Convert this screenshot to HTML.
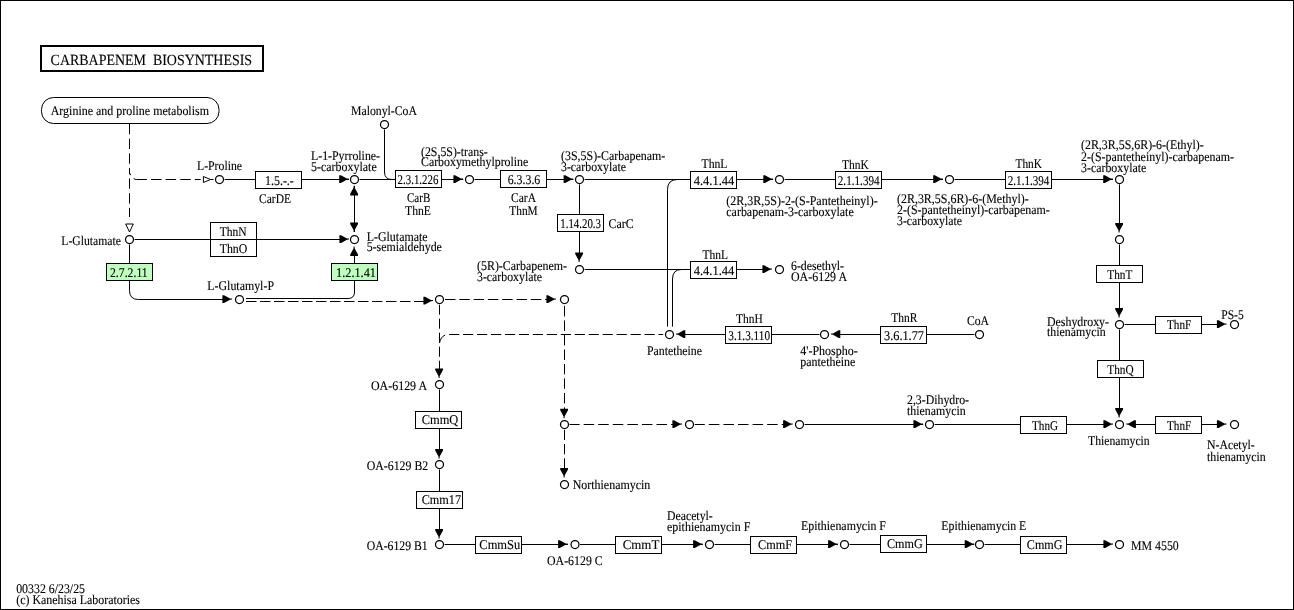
<!DOCTYPE html>
<html lang="en"><head><meta charset="utf-8"><title>Carbapenem biosynthesis</title>
<style>
html,body{margin:0;padding:0;background:#fff;}
body{width:1294px;height:610px;overflow:hidden;}
svg{display:block;will-change:transform;text-rendering:geometricPrecision;}
text{font-family:"Liberation Serif","Times New Roman",Times,serif;fill:#000;stroke:#000;stroke-width:0.12px;}
</style></head><body>
<svg width="1294" height="610" viewBox="0 0 1294 610">
<rect x="0" y="0" width="1294" height="610" fill="#fff"/>
<rect x="0.5" y="0.5" width="1293" height="609" fill="none" stroke="#000" stroke-width="1"/>
<path d="M129.5,124 V174.3" fill="none" stroke="#000" stroke-width="1" stroke-dasharray="10.3 4.4"/>
<path d="M129.5,178.4 V217" fill="none" stroke="#000" stroke-width="1" stroke-dasharray="10.4 4.35"/>
<path d="M136.5,179.5 H200.7" fill="none" stroke="#000" stroke-width="1" stroke-dasharray="10.4 4.2"/>
<path d="M130.2,173.6 L130.6,175.2 M133.6,178.6 Q135,179.5 136.5,179.5" fill="none" stroke="#000" stroke-width="1"/>
<path d="M223.5,179.5 H1119.5" fill="none" stroke="#000" stroke-width="1"/>
<path d="M384.5,128.5 V172 Q384.5,179.5 392,179.5" fill="none" stroke="#000" stroke-width="1"/>
<path d="M354.5,186 V232" fill="none" stroke="#000" stroke-width="1"/>
<path d="M133.5,239.5 H345" fill="none" stroke="#000" stroke-width="1"/>
<path d="M129.5,243.5 V290.5 Q129.5,299.5 138.5,299.5 H228" fill="none" stroke="#000" stroke-width="1"/>
<path d="M246,298.5 H348 Q354.5,298.5 354.5,292 V250" fill="none" stroke="#000" stroke-width="1"/>
<path d="M246,301.5 H424" fill="none" stroke="#000" stroke-width="1" stroke-dasharray="10.5 3.5"/>
<path d="M445,299.5 H547" fill="none" stroke="#000" stroke-width="1" stroke-dasharray="10.5 3.8"/>
<path d="M439.5,304.7 V369" fill="none" stroke="#000" stroke-width="1" stroke-dasharray="10 4"/>
<path d="M439.5,343 Q441,335 448,334.5 H663.2" fill="none" stroke="#000" stroke-width="1" stroke-dasharray="10.2 3.76"/>
<path d="M564.5,305.9 V410" fill="none" stroke="#000" stroke-width="1" stroke-dasharray="10.5 4"/>
<path d="M564.5,429.7 V469" fill="none" stroke="#000" stroke-width="1" stroke-dasharray="10.3 4"/>
<path d="M569.1,424.5 H673" fill="none" stroke="#000" stroke-width="1" stroke-dasharray="10.5 4.07"/>
<path d="M694.3,424.5 H784" fill="none" stroke="#000" stroke-width="1" stroke-dasharray="10.5 4.07"/>
<path d="M803.5,424.5 H1110" fill="none" stroke="#000" stroke-width="1"/>
<path d="M1130,424.5 H1223" fill="none" stroke="#000" stroke-width="1"/>
<path d="M579.5,183.5 V258" fill="none" stroke="#000" stroke-width="1"/>
<path d="M583.5,269.5 H770" fill="none" stroke="#000" stroke-width="1"/>
<path d="M677.5,179.5 Q667.5,179.5 667.5,189.5 V326.6" fill="none" stroke="#000" stroke-width="1"/>
<path d="M681.5,269.5 Q672.5,269.5 672.5,279 V326.6" fill="none" stroke="#000" stroke-width="1"/>
<path d="M680,334.5 H820.5" fill="none" stroke="#000" stroke-width="1"/>
<path d="M835,334.5 H975.5" fill="none" stroke="#000" stroke-width="1"/>
<path d="M1119.5,183.5 V228" fill="none" stroke="#000" stroke-width="1"/>
<path d="M1119.5,243.5 V313" fill="none" stroke="#000" stroke-width="1"/>
<path d="M1119.5,328.5 V413" fill="none" stroke="#000" stroke-width="1"/>
<path d="M1123.5,324.5 H1223" fill="none" stroke="#000" stroke-width="1"/>
<path d="M439.5,388.5 V455" fill="none" stroke="#000" stroke-width="1"/>
<path d="M439.5,468.5 V535" fill="none" stroke="#000" stroke-width="1"/>
<path d="M443.5,544.5 H1110" fill="none" stroke="#000" stroke-width="1"/>
<path d="M210.79999999999998,179.5 L217.1,179.5" stroke="#fff" stroke-width="3" fill="none"/>
<polygon points="210.6,179.5 203.4,182.5 203.4,176.5" fill="#fff" stroke="#000" stroke-width="1"/>
<path d="M211,179.5 H213.5" fill="none" stroke="#000" stroke-width="1"/>
<path d="M129.5,232.2 L129.5,238.5" stroke="#fff" stroke-width="3" fill="none"/>
<polygon points="129.5,232 133.3,224.0 125.7,224.0" fill="#fff" stroke="#000" stroke-width="1"/>
<path d="M349.0,179.5 L355.3,179.5" stroke="#fff" stroke-width="3" fill="none"/>
<polygon points="339.2,175.2 339.2,183.0 340.8,183.0 346.8,179.7 348.8,179.6 348.8,178.6 346.8,178.5 340.8,175.2" fill="#000"/>
<path d="M463.2,179.5 L469.5,179.5" stroke="#fff" stroke-width="3" fill="none"/>
<polygon points="453.4,175.2 453.4,183.0 455.0,183.0 461.0,179.7 463,179.6 463,178.6 461.0,178.5 455.0,175.2" fill="#000"/>
<path d="M573.4000000000001,179.5 L579.7,179.5" stroke="#fff" stroke-width="3" fill="none"/>
<polygon points="563.6,175.2 563.6,183.0 565.2,183.0 571.2,179.7 573.2,179.6 573.2,178.6 571.2,178.5 565.2,175.2" fill="#000"/>
<path d="M773.1,179.5 L779.4,179.5" stroke="#fff" stroke-width="3" fill="none"/>
<polygon points="763.3,175.2 763.3,183.0 764.9,183.0 770.9,179.7 772.9,179.6 772.9,178.6 770.9,178.5 764.9,175.2" fill="#000"/>
<path d="M943.0,179.5 L949.3,179.5" stroke="#fff" stroke-width="3" fill="none"/>
<polygon points="933.2,175.2 933.2,183.0 934.8,183.0 940.8,179.7 942.8,179.6 942.8,178.6 940.8,178.5 934.8,175.2" fill="#000"/>
<path d="M1113.0,179.5 L1119.3,179.5" stroke="#fff" stroke-width="3" fill="none"/>
<polygon points="1103.2,175.2 1103.2,183.0 1104.8,183.0 1110.8,179.7 1112.8,179.6 1112.8,178.6 1110.8,178.5 1104.8,175.2" fill="#000"/>
<path d="M354.5,185.60000000000002 L354.5,179.3" stroke="#fff" stroke-width="3" fill="none"/>
<polygon points="350.2,195.4 358.0,195.4 358.0,193.8 354.7,187.8 354.6,185.8 353.6,185.8 353.5,187.8 350.2,193.8" fill="#000"/>
<path d="M354.5,232.2 L354.5,238.5" stroke="#fff" stroke-width="3" fill="none"/>
<polygon points="350.2,222.4 358.0,222.4 358.0,224.0 354.7,230.0 354.6,232 353.6,232 353.5,230.0 350.2,224.0" fill="#000"/>
<path d="M349.2,239.5 L355.5,239.5" stroke="#fff" stroke-width="3" fill="none"/>
<polygon points="339.4,235.2 339.4,243.0 341.0,243.0 347.0,239.7 349,239.6 349,238.6 347.0,238.5 341.0,235.2" fill="#000"/>
<path d="M354.5,246.3 L354.5,240.0" stroke="#fff" stroke-width="3" fill="none"/>
<polygon points="350.2,256.1 358.0,256.1 358.0,254.5 354.7,248.5 354.6,246.5 353.6,246.5 353.5,248.5 350.2,254.5" fill="#000"/>
<path d="M232.2,299.5 L238.5,299.5" stroke="#fff" stroke-width="3" fill="none"/>
<polygon points="222.4,295.2 222.4,303.0 224.0,303.0 230.0,299.7 232,299.6 232,298.6 230.0,298.5 224.0,295.2" fill="#000"/>
<path d="M433.2,301.0 L439.5,301.0" stroke="#fff" stroke-width="3" fill="none"/>
<polygon points="423.4,296.7 423.4,304.5 425.0,304.5 431.0,301.2 433,301.1 433,300.1 431.0,300.0 425.0,296.7" fill="#000"/>
<path d="M556.2,299.5 L562.5,299.5" stroke="#fff" stroke-width="3" fill="none"/>
<polygon points="546.4,295.2 546.4,303.0 548.0,303.0 554.0,299.7 556,299.6 556,298.6 554.0,298.5 548.0,295.2" fill="#000"/>
<path d="M439.5,378.2 L439.5,384.5" stroke="#fff" stroke-width="3" fill="none"/>
<polygon points="435.2,368.4 443.0,368.4 443.0,370.0 439.7,376.0 439.6,378 438.6,378 438.5,376.0 435.2,370.0" fill="#000"/>
<path d="M564.5,418.5 L564.5,424.8" stroke="#fff" stroke-width="3" fill="none"/>
<polygon points="560.2,408.7 568.0,408.7 568.0,410.3 564.7,416.3 564.6,418.3 563.6,418.3 563.5,416.3 560.2,410.3" fill="#000"/>
<path d="M564.5,477.7 L564.5,484.0" stroke="#fff" stroke-width="3" fill="none"/>
<polygon points="560.2,467.9 568.0,467.9 568.0,469.5 564.7,475.5 564.6,477.5 563.6,477.5 563.5,475.5 560.2,469.5" fill="#000"/>
<path d="M682.2,424.5 L688.5,424.5" stroke="#fff" stroke-width="3" fill="none"/>
<polygon points="672.4,420.2 672.4,428.0 674.0,428.0 680.0,424.7 682,424.6 682,423.6 680.0,423.5 674.0,420.2" fill="#000"/>
<path d="M792.9000000000001,424.5 L799.2,424.5" stroke="#fff" stroke-width="3" fill="none"/>
<polygon points="783.1,420.2 783.1,428.0 784.7,428.0 790.7,424.7 792.7,424.6 792.7,423.6 790.7,423.5 784.7,420.2" fill="#000"/>
<path d="M923.2,424.5 L929.5,424.5" stroke="#fff" stroke-width="3" fill="none"/>
<polygon points="913.4,420.2 913.4,428.0 915.0,428.0 921.0,424.7 923,424.6 923,423.6 921.0,423.5 915.0,420.2" fill="#000"/>
<path d="M1113.2,424.5 L1119.5,424.5" stroke="#fff" stroke-width="3" fill="none"/>
<polygon points="1103.4,420.2 1103.4,428.0 1105.0,428.0 1111.0,424.7 1113,424.6 1113,423.6 1111.0,423.5 1105.0,420.2" fill="#000"/>
<path d="M1126.1,424.5 L1119.8,424.5" stroke="#fff" stroke-width="3" fill="none"/>
<polygon points="1135.9,420.2 1135.9,428.0 1134.3,428.0 1128.3,424.7 1126.3,424.6 1126.3,423.6 1128.3,423.5 1134.3,420.2" fill="#000"/>
<path d="M1226.7,424.5 L1233.0,424.5" stroke="#fff" stroke-width="3" fill="none"/>
<polygon points="1216.9,420.2 1216.9,428.0 1218.5,428.0 1224.5,424.7 1226.5,424.6 1226.5,423.6 1224.5,423.5 1218.5,420.2" fill="#000"/>
<path d="M579.5,262.2 L579.5,268.5" stroke="#fff" stroke-width="3" fill="none"/>
<polygon points="575.2,252.4 583.0,252.4 583.0,254.0 579.7,260.0 579.6,262 578.6,262 578.5,260.0 575.2,254.0" fill="#000"/>
<path d="M772.2,269.5 L778.5,269.5" stroke="#fff" stroke-width="3" fill="none"/>
<polygon points="762.4,265.2 762.4,273.0 764.0,273.0 770.0,269.7 772,269.6 772,268.6 770.0,268.5 764.0,265.2" fill="#000"/>
<path d="M675.8,334.5 L669.5,334.5" stroke="#fff" stroke-width="3" fill="none"/>
<polygon points="685.3,330.2 685.3,338.0 683.7,338.0 678.0,334.7 676,334.6 676,333.6 678.0,333.5 683.7,330.2" fill="#000"/>
<path d="M830.8,334.5 L824.5,334.5" stroke="#fff" stroke-width="3" fill="none"/>
<polygon points="840.3,330.2 840.3,338.0 838.7,338.0 833.0,334.7 831,334.6 831,333.6 833.0,333.5 838.7,330.2" fill="#000"/>
<path d="M1119.5,232.7 L1119.5,239.0" stroke="#fff" stroke-width="3" fill="none"/>
<polygon points="1115.2,222.9 1123.0,222.9 1123.0,224.5 1119.7,230.5 1119.6,232.5 1118.6,232.5 1118.5,230.5 1115.2,224.5" fill="#000"/>
<path d="M1119.5,317.7 L1119.5,324.0" stroke="#fff" stroke-width="3" fill="none"/>
<polygon points="1115.2,307.9 1123.0,307.9 1123.0,309.5 1119.7,315.5 1119.6,317.5 1118.6,317.5 1118.5,315.5 1115.2,309.5" fill="#000"/>
<path d="M1119.5,417.7 L1119.5,424.0" stroke="#fff" stroke-width="3" fill="none"/>
<polygon points="1115.2,407.9 1123.0,407.9 1123.0,409.5 1119.7,415.5 1119.6,417.5 1118.6,417.5 1118.5,415.5 1115.2,409.5" fill="#000"/>
<path d="M1226.7,324.5 L1233.0,324.5" stroke="#fff" stroke-width="3" fill="none"/>
<polygon points="1216.9,320.2 1216.9,328.0 1218.5,328.0 1224.5,324.7 1226.5,324.6 1226.5,323.6 1224.5,323.5 1218.5,320.2" fill="#000"/>
<path d="M439.5,458.7 L439.5,465.0" stroke="#fff" stroke-width="3" fill="none"/>
<polygon points="435.2,448.9 443.0,448.9 443.0,450.5 439.7,456.5 439.6,458.5 438.6,458.5 438.5,456.5 435.2,450.5" fill="#000"/>
<path d="M439.5,538.7 L439.5,545.0" stroke="#fff" stroke-width="3" fill="none"/>
<polygon points="435.2,528.9 443.0,528.9 443.0,530.5 439.7,536.5 439.6,538.5 438.6,538.5 438.5,536.5 435.2,530.5" fill="#000"/>
<path d="M567.9000000000001,544.5 L574.2,544.5" stroke="#fff" stroke-width="3" fill="none"/>
<polygon points="558.1,540.2 558.1,548.0 559.7,548.0 565.7,544.7 567.7,544.6 567.7,543.6 565.7,543.5 559.7,540.2" fill="#000"/>
<path d="M702.9000000000001,544.5 L709.2,544.5" stroke="#fff" stroke-width="3" fill="none"/>
<polygon points="693.1,540.2 693.1,548.0 694.7,548.0 700.7,544.7 702.7,544.6 702.7,543.6 700.7,543.5 694.7,540.2" fill="#000"/>
<path d="M837.9000000000001,544.5 L844.2,544.5" stroke="#fff" stroke-width="3" fill="none"/>
<polygon points="828.1,540.2 828.1,548.0 829.7,548.0 835.7,544.7 837.7,544.6 837.7,543.6 835.7,543.5 829.7,540.2" fill="#000"/>
<path d="M974.5,544.5 L980.8,544.5" stroke="#fff" stroke-width="3" fill="none"/>
<polygon points="964.7,540.2 964.7,548.0 966.3,548.0 972.3,544.7 974.3,544.6 974.3,543.6 972.3,543.5 966.3,540.2" fill="#000"/>
<path d="M1113.2,544.5 L1119.5,544.5" stroke="#fff" stroke-width="3" fill="none"/>
<polygon points="1103.4,540.2 1103.4,548.0 1105.0,548.0 1111.0,544.7 1113,544.6 1113,543.6 1111.0,543.5 1105.0,540.2" fill="#000"/>
<circle cx="219.5" cy="179.5" r="5.1" fill="#fff"/>
<circle cx="219.5" cy="179.5" r="4" fill="#fff" stroke="#000" stroke-width="1.25"/>
<circle cx="354.5" cy="179.5" r="5.1" fill="#fff"/>
<circle cx="354.5" cy="179.5" r="4" fill="#fff" stroke="#000" stroke-width="1.25"/>
<circle cx="384.5" cy="124.5" r="5.1" fill="#fff"/>
<circle cx="384.5" cy="124.5" r="4" fill="#fff" stroke="#000" stroke-width="1.25"/>
<circle cx="469.5" cy="179.5" r="5.1" fill="#fff"/>
<circle cx="469.5" cy="179.5" r="4" fill="#fff" stroke="#000" stroke-width="1.25"/>
<circle cx="579.5" cy="179.5" r="5.1" fill="#fff"/>
<circle cx="579.5" cy="179.5" r="4" fill="#fff" stroke="#000" stroke-width="1.25"/>
<circle cx="779.5" cy="179.5" r="5.1" fill="#fff"/>
<circle cx="779.5" cy="179.5" r="4" fill="#fff" stroke="#000" stroke-width="1.25"/>
<circle cx="949.5" cy="179.5" r="5.1" fill="#fff"/>
<circle cx="949.5" cy="179.5" r="4" fill="#fff" stroke="#000" stroke-width="1.25"/>
<circle cx="1119.5" cy="179.5" r="5.1" fill="#fff"/>
<circle cx="1119.5" cy="179.5" r="4" fill="#fff" stroke="#000" stroke-width="1.25"/>
<circle cx="129.5" cy="239.5" r="5.1" fill="#fff"/>
<circle cx="129.5" cy="239.5" r="4" fill="#fff" stroke="#000" stroke-width="1.25"/>
<circle cx="354.5" cy="239.5" r="5.1" fill="#fff"/>
<circle cx="354.5" cy="239.5" r="4" fill="#fff" stroke="#000" stroke-width="1.25"/>
<circle cx="239.5" cy="299.5" r="5.1" fill="#fff"/>
<circle cx="239.5" cy="299.5" r="4" fill="#fff" stroke="#000" stroke-width="1.25"/>
<circle cx="439.5" cy="299.5" r="5.1" fill="#fff"/>
<circle cx="439.5" cy="299.5" r="4" fill="#fff" stroke="#000" stroke-width="1.25"/>
<circle cx="564.5" cy="299.5" r="5.1" fill="#fff"/>
<circle cx="564.5" cy="299.5" r="4" fill="#fff" stroke="#000" stroke-width="1.25"/>
<circle cx="579.5" cy="269.5" r="5.1" fill="#fff"/>
<circle cx="579.5" cy="269.5" r="4" fill="#fff" stroke="#000" stroke-width="1.25"/>
<circle cx="779.5" cy="269.5" r="5.1" fill="#fff"/>
<circle cx="779.5" cy="269.5" r="4" fill="#fff" stroke="#000" stroke-width="1.25"/>
<circle cx="669.5" cy="334.5" r="5.1" fill="#fff"/>
<circle cx="669.5" cy="334.5" r="4" fill="#fff" stroke="#000" stroke-width="1.25"/>
<circle cx="824.5" cy="334.5" r="5.1" fill="#fff"/>
<circle cx="824.5" cy="334.5" r="4" fill="#fff" stroke="#000" stroke-width="1.25"/>
<circle cx="979.5" cy="334.5" r="5.1" fill="#fff"/>
<circle cx="979.5" cy="334.5" r="4" fill="#fff" stroke="#000" stroke-width="1.25"/>
<circle cx="1119.5" cy="239.5" r="5.1" fill="#fff"/>
<circle cx="1119.5" cy="239.5" r="4" fill="#fff" stroke="#000" stroke-width="1.25"/>
<circle cx="1119.5" cy="324.5" r="5.1" fill="#fff"/>
<circle cx="1119.5" cy="324.5" r="4" fill="#fff" stroke="#000" stroke-width="1.25"/>
<circle cx="1234.5" cy="324.5" r="5.1" fill="#fff"/>
<circle cx="1234.5" cy="324.5" r="4" fill="#fff" stroke="#000" stroke-width="1.25"/>
<circle cx="439.5" cy="384.5" r="5.1" fill="#fff"/>
<circle cx="439.5" cy="384.5" r="4" fill="#fff" stroke="#000" stroke-width="1.25"/>
<circle cx="564.5" cy="424.5" r="5.1" fill="#fff"/>
<circle cx="564.5" cy="424.5" r="4" fill="#fff" stroke="#000" stroke-width="1.25"/>
<circle cx="689.5" cy="424.5" r="5.1" fill="#fff"/>
<circle cx="689.5" cy="424.5" r="4" fill="#fff" stroke="#000" stroke-width="1.25"/>
<circle cx="799.5" cy="424.5" r="5.1" fill="#fff"/>
<circle cx="799.5" cy="424.5" r="4" fill="#fff" stroke="#000" stroke-width="1.25"/>
<circle cx="929.5" cy="424.5" r="5.1" fill="#fff"/>
<circle cx="929.5" cy="424.5" r="4" fill="#fff" stroke="#000" stroke-width="1.25"/>
<circle cx="1119.5" cy="424.5" r="5.1" fill="#fff"/>
<circle cx="1119.5" cy="424.5" r="4" fill="#fff" stroke="#000" stroke-width="1.25"/>
<circle cx="1234.5" cy="424.5" r="5.1" fill="#fff"/>
<circle cx="1234.5" cy="424.5" r="4" fill="#fff" stroke="#000" stroke-width="1.25"/>
<circle cx="564.5" cy="484.5" r="5.1" fill="#fff"/>
<circle cx="564.5" cy="484.5" r="4" fill="#fff" stroke="#000" stroke-width="1.25"/>
<circle cx="439.5" cy="464.5" r="5.1" fill="#fff"/>
<circle cx="439.5" cy="464.5" r="4" fill="#fff" stroke="#000" stroke-width="1.25"/>
<circle cx="439.5" cy="544.5" r="5.1" fill="#fff"/>
<circle cx="439.5" cy="544.5" r="4" fill="#fff" stroke="#000" stroke-width="1.25"/>
<circle cx="575" cy="544.5" r="5.1" fill="#fff"/>
<circle cx="575" cy="544.5" r="4" fill="#fff" stroke="#000" stroke-width="1.25"/>
<circle cx="709.5" cy="544.5" r="5.1" fill="#fff"/>
<circle cx="709.5" cy="544.5" r="4" fill="#fff" stroke="#000" stroke-width="1.25"/>
<circle cx="844.5" cy="544.5" r="5.1" fill="#fff"/>
<circle cx="844.5" cy="544.5" r="4" fill="#fff" stroke="#000" stroke-width="1.25"/>
<circle cx="979.5" cy="544.5" r="5.1" fill="#fff"/>
<circle cx="979.5" cy="544.5" r="4" fill="#fff" stroke="#000" stroke-width="1.25"/>
<circle cx="1119.5" cy="544.5" r="5.1" fill="#fff"/>
<circle cx="1119.5" cy="544.5" r="4" fill="#fff" stroke="#000" stroke-width="1.25"/>
<rect x="255.5" y="171.5" width="46" height="17" fill="#fff" stroke="#000" stroke-width="1"/>
<text x="265" y="185.0" font-size="13.4" textLength="28.8" lengthAdjust="spacingAndGlyphs">1.5.-.-</text>
<rect x="395.5" y="170.5" width="46" height="17" fill="#fff" stroke="#000" stroke-width="1"/>
<text x="397.6" y="184.0" font-size="13.4" textLength="40.8" lengthAdjust="spacingAndGlyphs">2.3.1.226</text>
<rect x="500.5" y="170.5" width="46" height="17" fill="#fff" stroke="#000" stroke-width="1"/>
<text x="507.7" y="184.0" font-size="13.4" textLength="32.6" lengthAdjust="spacingAndGlyphs">6.3.3.6</text>
<rect x="557.5" y="214.5" width="46" height="17" fill="#fff" stroke="#000" stroke-width="1"/>
<text x="560.3" y="228.0" font-size="13.4" textLength="40.7" lengthAdjust="spacingAndGlyphs">1.14.20.3</text>
<rect x="690.5" y="171.5" width="46" height="17" fill="#fff" stroke="#000" stroke-width="1"/>
<text x="693.7" y="185.0" font-size="13.4" textLength="40.6" lengthAdjust="spacingAndGlyphs">4.4.1.44</text>
<rect x="690.5" y="261.5" width="46" height="17" fill="#fff" stroke="#000" stroke-width="1"/>
<text x="693.7" y="275.0" font-size="13.4" textLength="40.6" lengthAdjust="spacingAndGlyphs">4.4.1.44</text>
<rect x="835.5" y="171.5" width="46" height="17" fill="#fff" stroke="#000" stroke-width="1"/>
<text x="837.8" y="185.0" font-size="13.4" textLength="41.8" lengthAdjust="spacingAndGlyphs">2.1.1.394</text>
<rect x="1005.5" y="171.5" width="46" height="17" fill="#fff" stroke="#000" stroke-width="1"/>
<text x="1007.8" y="185.0" font-size="13.4" textLength="41.6" lengthAdjust="spacingAndGlyphs">2.1.1.394</text>
<rect x="725.5" y="326.5" width="46" height="17" fill="#fff" stroke="#000" stroke-width="1"/>
<text x="728.3" y="340.0" font-size="13.4" textLength="41.7" lengthAdjust="spacingAndGlyphs">3.1.3.110</text>
<rect x="880.5" y="326.5" width="46" height="17" fill="#fff" stroke="#000" stroke-width="1"/>
<text x="884" y="340.0" font-size="13.4" textLength="40" lengthAdjust="spacingAndGlyphs">3.6.1.77</text>
<rect x="106.5" y="263.5" width="46" height="17" fill="#bfffbf" stroke="#000" stroke-width="1"/>
<text x="110" y="277.0" font-size="13.4" textLength="37.7" lengthAdjust="spacingAndGlyphs">2.7.2.11</text>
<rect x="331.5" y="263.5" width="46" height="17" fill="#bfffbf" stroke="#000" stroke-width="1"/>
<text x="336" y="277.0" font-size="13.4" textLength="40" lengthAdjust="spacingAndGlyphs">1.2.1.41</text>
<rect x="210.5" y="222.5" width="46" height="17" fill="#fff" stroke="#000" stroke-width="1"/>
<text x="219.7" y="235.8" font-size="13.4" textLength="27.0" lengthAdjust="spacingAndGlyphs">ThnN</text>
<rect x="210.5" y="239.5" width="46" height="17" fill="#fff" stroke="#000" stroke-width="1"/>
<text x="219.7" y="253.2" font-size="13.4" textLength="27.6" lengthAdjust="spacingAndGlyphs">ThnO</text>
<rect x="1096.5" y="265.5" width="46" height="17" fill="#fff" stroke="#000" stroke-width="1"/>
<text x="1107.3" y="278.8" font-size="13.4" textLength="25.0" lengthAdjust="spacingAndGlyphs">ThnT</text>
<rect x="1155.5" y="316.5" width="46" height="17" fill="#fff" stroke="#000" stroke-width="1"/>
<text x="1167" y="329.4" font-size="13.4" textLength="24.3" lengthAdjust="spacingAndGlyphs">ThnF</text>
<rect x="1097.5" y="360.5" width="46" height="17" fill="#fff" stroke="#000" stroke-width="1"/>
<text x="1107.3" y="373.8" font-size="13.4" textLength="26.4" lengthAdjust="spacingAndGlyphs">ThnQ</text>
<rect x="1020.5" y="416.5" width="46" height="17" fill="#fff" stroke="#000" stroke-width="1"/>
<text x="1032" y="429.8" font-size="13.4" textLength="26" lengthAdjust="spacingAndGlyphs">ThnG</text>
<rect x="1155.5" y="416.5" width="46" height="17" fill="#fff" stroke="#000" stroke-width="1"/>
<text x="1167" y="429.8" font-size="13.4" textLength="24.3" lengthAdjust="spacingAndGlyphs">ThnF</text>
<rect x="415.5" y="411.5" width="46" height="17" fill="#fff" stroke="#000" stroke-width="1"/>
<text x="421.7" y="423.7" font-size="13.4" textLength="36.6" lengthAdjust="spacingAndGlyphs">CmmQ</text>
<rect x="416.5" y="491.5" width="46" height="17" fill="#fff" stroke="#000" stroke-width="1"/>
<text x="421.7" y="504.0" font-size="13.4" textLength="39.3" lengthAdjust="spacingAndGlyphs">Cmm17</text>
<rect x="475.5" y="536.5" width="46" height="17" fill="#fff" stroke="#000" stroke-width="1"/>
<text x="479.3" y="549.0" font-size="13.4" textLength="41.0" lengthAdjust="spacingAndGlyphs">CmmSu</text>
<rect x="615.5" y="536.5" width="46" height="17" fill="#fff" stroke="#000" stroke-width="1"/>
<text x="622.7" y="549.0" font-size="13.4" textLength="36.6" lengthAdjust="spacingAndGlyphs">CmmT</text>
<rect x="750.5" y="536.5" width="46" height="17" fill="#fff" stroke="#000" stroke-width="1"/>
<text x="758" y="549.0" font-size="13.4" textLength="34" lengthAdjust="spacingAndGlyphs">CmmF</text>
<rect x="880.5" y="535.5" width="46" height="17" fill="#fff" stroke="#000" stroke-width="1"/>
<text x="887" y="548.2" font-size="13.4" textLength="35.7" lengthAdjust="spacingAndGlyphs">CmmG</text>
<rect x="1020.5" y="536.5" width="46" height="17" fill="#fff" stroke="#000" stroke-width="1"/>
<text x="1026.8" y="549.0" font-size="13.4" textLength="35.7" lengthAdjust="spacingAndGlyphs">CmmG</text>
<rect x="41" y="46" width="222" height="25" fill="#fff" stroke="#000" stroke-width="2"/>
<text x="50.6" y="65" font-size="15.5" textLength="201.5" lengthAdjust="spacingAndGlyphs" xml:space="preserve">CARBAPENEM  BIOSYNTHESIS</text>
<rect x="41.5" y="97.5" width="177.5" height="26" rx="12" ry="12" fill="#fff" stroke="#000" stroke-width="1"/>
<text x="50.7" y="115.3" font-size="13.3" textLength="158.3" lengthAdjust="spacingAndGlyphs">Arginine and proline metabolism</text>
<text x="197" y="169.8" font-size="13.3" textLength="45" lengthAdjust="spacingAndGlyphs">L-Proline</text>
<text x="259" y="202.8" font-size="13.3" textLength="32" lengthAdjust="spacingAndGlyphs">CarDE</text>
<text x="311" y="160.1" font-size="13.3" textLength="69" lengthAdjust="spacingAndGlyphs">L-1-Pyrroline-</text>
<text x="311" y="171.1" font-size="13.3" textLength="65.7" lengthAdjust="spacingAndGlyphs">5-carboxylate</text>
<text x="351" y="114.8" font-size="13.3" textLength="66" lengthAdjust="spacingAndGlyphs">Malonyl-CoA</text>
<text x="407" y="201.5" font-size="13.3" textLength="23.3" lengthAdjust="spacingAndGlyphs">CarB</text>
<text x="405" y="215.1" font-size="13.3" textLength="26" lengthAdjust="spacingAndGlyphs">ThnE</text>
<text x="421" y="155.8" font-size="13.3" textLength="66.7" lengthAdjust="spacingAndGlyphs">(2S,5S)-trans-</text>
<text x="421" y="166.3" font-size="13.3" textLength="107.3" lengthAdjust="spacingAndGlyphs">Carboxymethylproline</text>
<text x="511" y="201.5" font-size="13.3" textLength="25" lengthAdjust="spacingAndGlyphs">CarA</text>
<text x="509.3" y="215.1" font-size="13.3" textLength="28.4" lengthAdjust="spacingAndGlyphs">ThnM</text>
<text x="561" y="160.0" font-size="13.3" textLength="104.3" lengthAdjust="spacingAndGlyphs">(3S,5S)-Carbapenam-</text>
<text x="561" y="171.3" font-size="13.3" textLength="65" lengthAdjust="spacingAndGlyphs">3-carboxylate</text>
<text x="608.6" y="228" font-size="13.3" textLength="25.1" lengthAdjust="spacingAndGlyphs">CarC</text>
<text x="477" y="270.2" font-size="13.3" textLength="90" lengthAdjust="spacingAndGlyphs">(5R)-Carbapenem-</text>
<text x="477" y="281.3" font-size="13.3" textLength="65" lengthAdjust="spacingAndGlyphs">3-carboxylate</text>
<text x="701.5" y="168.1" font-size="13.3" textLength="26.0" lengthAdjust="spacingAndGlyphs">ThnL</text>
<text x="702.5" y="258.6" font-size="13.3" textLength="25.5" lengthAdjust="spacingAndGlyphs">ThnL</text>
<text x="842" y="168.8" font-size="13.3" textLength="26.7" lengthAdjust="spacingAndGlyphs">ThnK</text>
<text x="1015.5" y="167.9" font-size="13.3" textLength="26.5" lengthAdjust="spacingAndGlyphs">ThnK</text>
<text x="726.3" y="204.8" font-size="13.3" textLength="151.4" lengthAdjust="spacingAndGlyphs">(2R,3R,5S)-2-(S-Pantetheinyl)-</text>
<text x="726.3" y="215.8" font-size="13.3" textLength="127.4" lengthAdjust="spacingAndGlyphs">carbapenam-3-carboxylate</text>
<text x="897" y="202.7" font-size="13.3" textLength="131.7" lengthAdjust="spacingAndGlyphs">(2R,3R,5S,6R)-6-(Methyl)-</text>
<text x="897" y="214.3" font-size="13.3" textLength="152.7" lengthAdjust="spacingAndGlyphs">2-(S-pantetheinyl)-carbapenam-</text>
<text x="897" y="224.8" font-size="13.3" textLength="65" lengthAdjust="spacingAndGlyphs">3-carboxylate</text>
<text x="1081" y="149.3" font-size="13.3" textLength="122.7" lengthAdjust="spacingAndGlyphs">(2R,3R,5S,6R)-6-(Ethyl)-</text>
<text x="1081" y="160.5" font-size="13.3" textLength="153" lengthAdjust="spacingAndGlyphs">2-(S-pantetheinyl)-carbapenam-</text>
<text x="1081" y="171.8" font-size="13.3" textLength="65.3" lengthAdjust="spacingAndGlyphs">3-carboxylate</text>
<text x="791" y="269.9" font-size="13.3" textLength="53" lengthAdjust="spacingAndGlyphs">6-desethyl-</text>
<text x="791" y="280.8" font-size="13.3" textLength="56" lengthAdjust="spacingAndGlyphs">OA-6129 A</text>
<text x="736" y="323.1" font-size="13.3" textLength="26.7" lengthAdjust="spacingAndGlyphs">ThnH</text>
<text x="647" y="354.8" font-size="13.3" textLength="55" lengthAdjust="spacingAndGlyphs">Pantetheine</text>
<text x="800.3" y="354.8" font-size="13.3" textLength="57.4" lengthAdjust="spacingAndGlyphs">4'-Phospho-</text>
<text x="800.3" y="365.8" font-size="13.3" textLength="55.0" lengthAdjust="spacingAndGlyphs">pantetheine</text>
<text x="891.3" y="322.2" font-size="13.3" textLength="26.0" lengthAdjust="spacingAndGlyphs">ThnR</text>
<text x="967" y="325.3" font-size="13.3" textLength="22" lengthAdjust="spacingAndGlyphs">CoA</text>
<text x="1047" y="326.2" font-size="13.3" textLength="62" lengthAdjust="spacingAndGlyphs">Deshydroxy-</text>
<text x="1047" y="336.3" font-size="13.3" textLength="58.7" lengthAdjust="spacingAndGlyphs">thienamycin</text>
<text x="1221.3" y="318.5" font-size="13.3" textLength="22.4" lengthAdjust="spacingAndGlyphs">PS-5</text>
<text x="907" y="404.1" font-size="13.3" textLength="62" lengthAdjust="spacingAndGlyphs">2,3-Dihydro-</text>
<text x="907" y="415.1" font-size="13.3" textLength="58.7" lengthAdjust="spacingAndGlyphs">thienamycin</text>
<text x="1088" y="444.8" font-size="13.3" textLength="61.7" lengthAdjust="spacingAndGlyphs">Thienamycin</text>
<text x="1207" y="449.1" font-size="13.3" textLength="47.7" lengthAdjust="spacingAndGlyphs">N-Acetyl-</text>
<text x="1207" y="460.8" font-size="13.3" textLength="58.7" lengthAdjust="spacingAndGlyphs">thienamycin</text>
<text x="61.3" y="244.8" font-size="13.3" textLength="59.7" lengthAdjust="spacingAndGlyphs">L-Glutamate</text>
<text x="366.7" y="240.5" font-size="13.3" textLength="60.9" lengthAdjust="spacingAndGlyphs">L-Glutamate</text>
<text x="366.7" y="251.3" font-size="13.3" textLength="75.2" lengthAdjust="spacingAndGlyphs">5-semialdehyde</text>
<text x="207.3" y="290.0" font-size="13.3" textLength="66.7" lengthAdjust="spacingAndGlyphs">L-Glutamyl-P</text>
<text x="371" y="390.1" font-size="13.3" textLength="56" lengthAdjust="spacingAndGlyphs">OA-6129 A</text>
<text x="366.7" y="470.1" font-size="13.3" textLength="61.6" lengthAdjust="spacingAndGlyphs">OA-6129 B2</text>
<text x="366.7" y="549.8" font-size="13.3" textLength="61.0" lengthAdjust="spacingAndGlyphs">OA-6129 B1</text>
<text x="547" y="565.1" font-size="13.3" textLength="55.7" lengthAdjust="spacingAndGlyphs">OA-6129 C</text>
<text x="572.7" y="488.5" font-size="13.3" textLength="77.6" lengthAdjust="spacingAndGlyphs">Northienamycin</text>
<text x="667" y="520.1" font-size="13.3" textLength="45.7" lengthAdjust="spacingAndGlyphs">Deacetyl-</text>
<text x="667" y="530.8" font-size="13.3" textLength="83.3" lengthAdjust="spacingAndGlyphs">epithienamycin F</text>
<text x="801" y="530.1" font-size="13.3" textLength="85" lengthAdjust="spacingAndGlyphs">Epithienamycin F</text>
<text x="941.3" y="530.1" font-size="13.3" textLength="85.0" lengthAdjust="spacingAndGlyphs">Epithienamycin E</text>
<text x="1131" y="549.6" font-size="13.3" textLength="47.8" lengthAdjust="spacingAndGlyphs">MM 4550</text>
<text x="16.2" y="593.0" font-size="13.3" textLength="68.8" lengthAdjust="spacingAndGlyphs">00332 6/23/25</text>
<text x="16.2" y="603.7" font-size="13.3" textLength="123.8" lengthAdjust="spacingAndGlyphs">(c) Kanehisa Laboratories</text>
</svg>
</body></html>
